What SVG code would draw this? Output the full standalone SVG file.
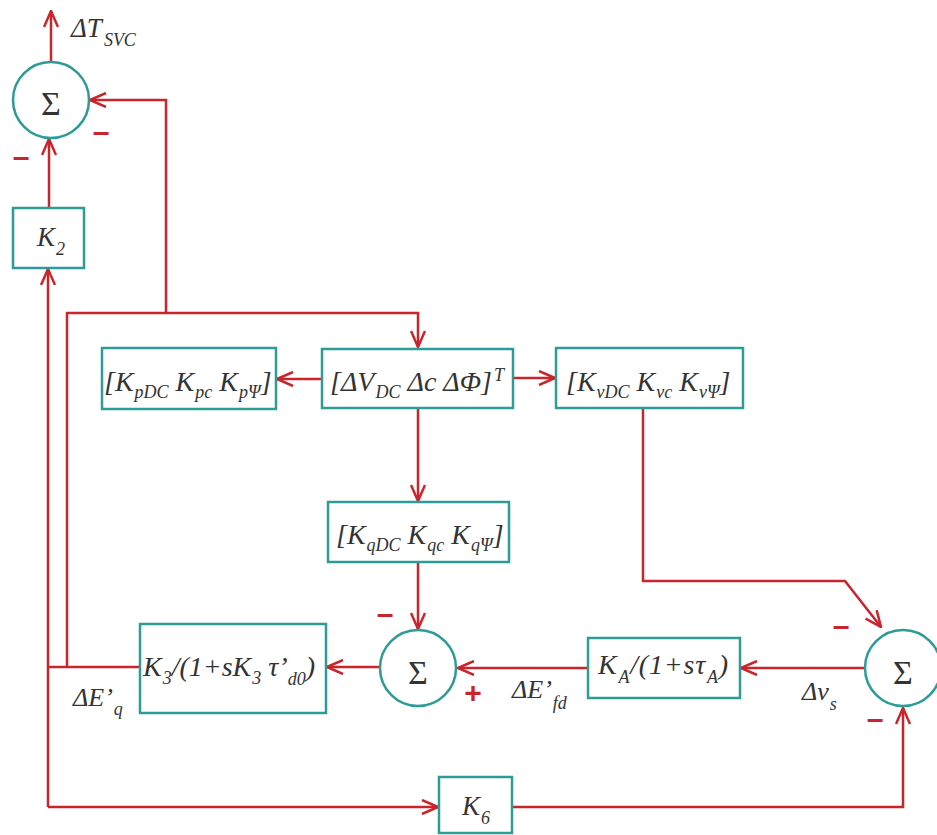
<svg xmlns="http://www.w3.org/2000/svg" width="937" height="835" viewBox="0 0 937 835">
<style>
.box{fill:#fff;stroke:#2e9c96;stroke-width:2.5}
.sum{fill:#fff;stroke:#2e9c96;stroke-width:2.5}
.w{fill:none;stroke:#c9252c;stroke-width:2.5}
.t{font-family:"Liberation Serif",serif;font-style:italic;font-size:28px;fill:#333}
.s{font-size:18px}
.sig{font-family:"Liberation Serif",serif;font-size:34px;fill:#333;text-anchor:middle}
.sg{font-family:"Liberation Sans",sans-serif;font-weight:bold;font-size:30px;fill:#c9252c;text-anchor:middle}
</style>
<defs>
<marker id="ah" viewBox="0 0 18 16" refX="17" refY="8" markerWidth="18" markerHeight="16" markerUnits="userSpaceOnUse" orient="auto">
<path d="M1,1 L17,8 L1,15" fill="none" stroke="#c9252c" stroke-width="2.5"/>
</marker>
</defs>
<rect width="937" height="835" fill="#fff"/>
<g id="connectors">
<path class="w" d="M51,62 V11" marker-end="url(#ah)"/>
<path class="w" d="M166,313 V100 H90" marker-end="url(#ah)"/>
<path class="w" d="M49,208 V139" marker-end="url(#ah)"/>
<path class="w" d="M140,667 H48"/>
<path class="w" d="M48,807 V269" marker-end="url(#ah)"/>
<path class="w" d="M48,807 H438" marker-end="url(#ah)"/>
<path class="w" d="M67,667 V313 H418 V347" marker-end="url(#ah)"/>
<path class="w" d="M322,379 H277" marker-end="url(#ah)"/>
<path class="w" d="M513,378 H555" marker-end="url(#ah)"/>
<path class="w" d="M418,408 V501" marker-end="url(#ah)"/>
<path class="w" d="M418,562 V629" marker-end="url(#ah)"/>
<path class="w" d="M380,667 H327" marker-end="url(#ah)"/>
<path class="w" d="M588,668 H458" marker-end="url(#ah)"/>
<path class="w" d="M865,668 H741" marker-end="url(#ah)"/>
<path class="w" d="M643,408 V581 H845 L881,627" marker-end="url(#ah)"/>
<path class="w" d="M512,807 H903 V708" marker-end="url(#ah)"/>
</g>
<g id="sum-top">
<circle class="sum" cx="51" cy="100" r="38"/>
<text class="sig" x="51" y="115">Σ</text>
</g>
<g id="label-tsvc">
<text class="t" x="71" y="37" style="font-size:27px">ΔT<tspan class="s" dx="2" dy="9" style="font-size:18px">SVC</tspan></text>
</g>
<g id="k2">
<rect class="box" x="13" y="208" width="71" height="60"/>
<text class="t" x="37" y="246" style="font-size:27px">K<tspan class="s" dx="1" dy="9" style="font-size:18px">2</tspan></text>
</g>
<g id="state">
<rect class="box" x="322" y="349" width="191" height="59"/>
<text class="t" x="330" y="391">[ΔV<tspan class="s" dx="1" dy="7">DC</tspan><tspan dy="-7"> Δc ΔΦ]</tspan><tspan class="s" dx="2" dy="-10">T</tspan></text>
</g>
<g id="kp">
<rect class="box" x="102" y="348" width="174" height="61"/>
<text class="t" x="104" y="391">[K<tspan class="s" dx="1" dy="7">pDC</tspan><tspan dy="-7"> K</tspan><tspan class="s" dx="1" dy="7">pc</tspan><tspan dy="-7"> K</tspan><tspan class="s" dx="1" dy="7">pΨ</tspan><tspan dy="-7">]</tspan></text>
</g>
<g id="kv">
<rect class="box" x="556" y="348" width="187" height="60"/>
<text class="t" x="566" y="391">[K<tspan class="s" dx="1" dy="7">vDC</tspan><tspan dy="-7"> K</tspan><tspan class="s" dx="1" dy="7">vc</tspan><tspan dy="-7"> K</tspan><tspan class="s" dx="1" dy="7">vΨ</tspan><tspan dy="-7">]</tspan></text>
</g>
<g id="kq">
<rect class="box" x="328" y="502" width="181" height="60"/>
<text class="t" x="336" y="544">[K<tspan class="s" dx="1" dy="7">qDC</tspan><tspan dy="-7"> K</tspan><tspan class="s" dx="1" dy="7">qc</tspan><tspan dy="-7"> K</tspan><tspan class="s" dx="1" dy="7">qΨ</tspan><tspan dy="-7">]</tspan></text>
</g>
<g id="sum-mid">
<circle class="sum" cx="418" cy="668" r="38"/>
<text class="sig" x="418" y="684">Σ</text>
</g>
<g id="k3">
<rect class="box" x="140" y="624" width="186" height="89"/>
<text class="t" x="143" y="676">K<tspan class="s" dx="1" dy="8">3</tspan><tspan dy="-8">/(1+sK</tspan><tspan class="s" dx="1" dy="8">3</tspan><tspan dy="-8"> τ’</tspan><tspan class="s" dy="9">d0</tspan><tspan dy="-9">)</tspan></text>
</g>
<g id="ka">
<rect class="box" x="588" y="638" width="152" height="60"/>
<text class="t" x="598" y="674" letter-spacing="0.8">K<tspan class="s" dx="1" dy="9">A</tspan><tspan dy="-9">/(1+sτ</tspan><tspan class="s" dx="1" dy="9">A</tspan><tspan dy="-9">)</tspan></text>
</g>
<g id="sum-right">
<circle class="sum" cx="903" cy="668" r="38"/>
<text class="sig" x="903" y="684">Σ</text>
</g>
<g id="k6">
<rect class="box" x="439" y="777" width="73" height="56"/>
<text class="t" x="462" y="815" style="font-size:27px">K<tspan class="s" dx="1" dy="9" style="font-size:18px">6</tspan></text>
</g>
<g id="labels">
<text class="t" x="73" y="706" style="font-size:26px">ΔE’<tspan class="s" dx="1" dy="9" style="font-size:18px">q</tspan></text>
<text class="t" x="512" y="698" style="font-size:26px">ΔE’<tspan class="s" dx="1" dy="11" style="font-size:18px">fd</tspan></text>
<text class="t" x="802" y="700" style="font-size:26px">Δv<tspan class="s" dx="1" dy="10" style="font-size:18px">s</tspan></text>
</g>
<g id="signs">
<text class="sg" x="101" y="142">–</text>
<text class="sg" x="21" y="167">–</text>
<text class="sg" x="385" y="624">–</text>
<text class="sg" x="473" y="703">+</text>
<text class="sg" x="841" y="636">–</text>
<text class="sg" x="875" y="729">–</text>
</g>
</svg>
